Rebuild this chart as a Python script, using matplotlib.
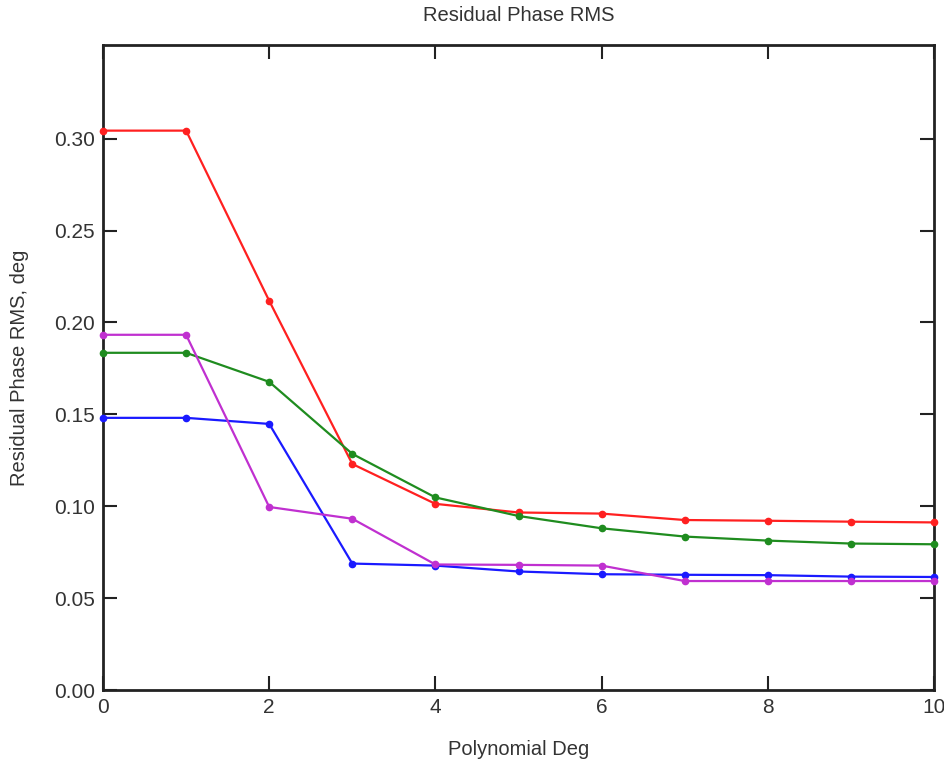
import matplotlib
matplotlib.use("Agg")
import matplotlib.pyplot as plt

plt.rcParams['font.family'] = ['Liberation Sans', 'DejaVu Sans']

deg = [0, 1, 2, 3, 4, 5, 6, 7, 8, 9, 10]
red = [0.3044, 0.3044, 0.2118, 0.1230, 0.1013, 0.0966, 0.0960, 0.0925, 0.0921, 0.0916, 0.0912]
green = [0.1835, 0.1835, 0.1677, 0.1285, 0.1048, 0.0947, 0.0880, 0.0835, 0.0813, 0.0797, 0.0793]
blue = [0.1481, 0.1481, 0.1448, 0.0688, 0.0677, 0.0645, 0.0630, 0.0627, 0.0625, 0.0617, 0.0615]
magenta = [0.1933, 0.1933, 0.0996, 0.0932, 0.0683, 0.0681, 0.0677, 0.0593, 0.0593, 0.0593, 0.0593]

series = [(red, '#ff2020'), (green, '#1f8c1f'), (blue, '#1a1aff'), (magenta, '#c030d0')]

fig = plt.figure(figsize=(9.45, 7.61), dpi=100)
ax = fig.add_axes([103 / 945, 71 / 761, 831 / 945, 645 / 761])

for vals, col in series:
    ax.plot(deg, vals, color=col, lw=1.6, marker='o', ms=4.5, clip_on=False, zorder=3)

ax.set_xlim(0, 10)
ax.set_ylim(0, 0.351)
ax.set_xticks([0, 2, 4, 6, 8, 10])
ax.set_yticks([0.0, 0.05, 0.10, 0.15, 0.20, 0.25, 0.30])
ax.set_yticklabels(['0.00', '0.05', '0.10', '0.15', '0.20', '0.25', '0.30'])

txt = '#333333'
ax.tick_params(direction='in', top=True, right=True, length=10, width=1.5,
               labelsize=15, colors='#222222', labelcolor=txt, pad=6)
for s in ax.spines.values():
    s.set_linewidth(2)
    s.set_color('#222222')

ax.set_title('Residual Phase RMS', fontsize=14.5, color=txt, pad=17)
ax.set_xlabel('Polynomial Deg', fontsize=14.5, color=txt, labelpad=16)
ax.set_ylabel('Residual Phase RMS, deg', fontsize=14.5, color=txt, labelpad=18)

fig.savefig('out.png', dpi=100)
